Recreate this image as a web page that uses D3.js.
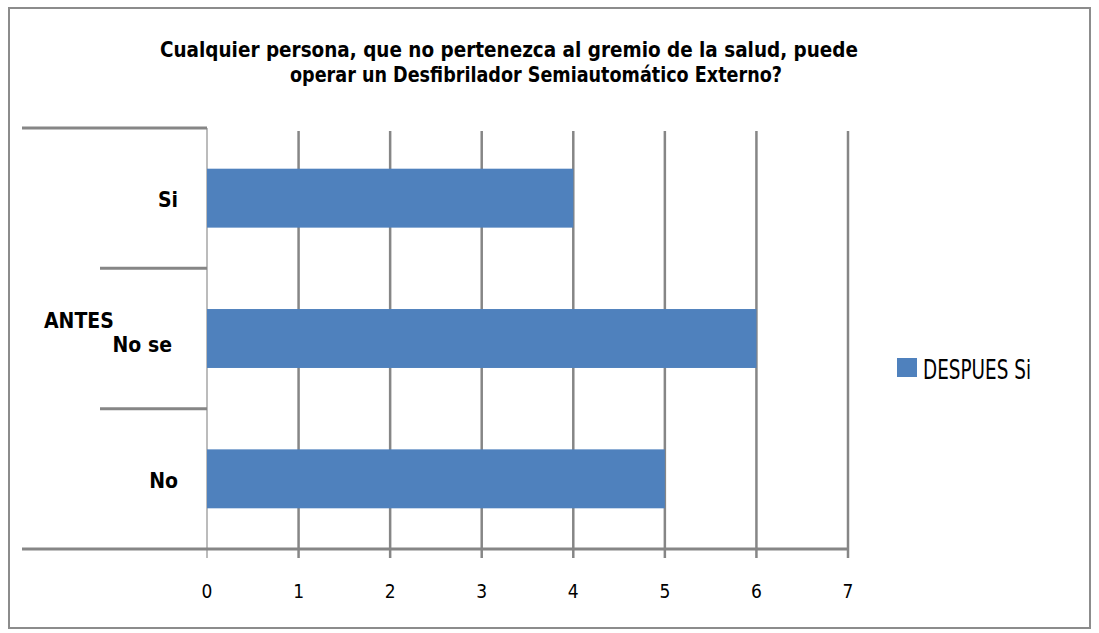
<!DOCTYPE html>
<html>
<head>
<meta charset="utf-8">
<script src="https://cdn.jsdelivr.net/npm/d3@7"></script>
<style>
  body { margin: 0; background: #fff; }
  text { font-family: "Liberation Sans Narrow", "Arial Narrow", "DejaVu Sans Condensed", sans-serif; }
</style>
</head>
<body>
<div id="chart"></div>
<script>
var width = 1099,
	height = 633;

var categories = ["Si", "No se", "No"];
var values = [4, 6, 5];
var ticks = [0, 1, 2, 3, 4, 5, 6, 7];
var groupLabel = "ANTES";
var seriesName = "DESPUES Si";
var titleLines = [
	"Cualquier persona, que no pertenezca al gremio de la salud, puede",
	"operar un Desfibrilador Semiautomático Externo?"
];

var barColor = "#4F81BD",
	gridColor = "#868686";

var svg = d3.select("#chart")
	.append("svg")
		.attr("width", width)
		.attr("height", height)
		.style("background-color", "#fff");

// outer frame
svg.append("rect")
	.attr("x", 9).attr("y", 8)
	.attr("width", 1081).attr("height", 620)
	.attr("fill", "none")
	.attr("stroke", "#8c8c8c")
	.attr("stroke-width", 2);

// title (each line centred on its own, like the original)
var titlePos = [{x: 160, w: 698, y: 57}, {x: 290, w: 492, y: 82}];
svg.selectAll(".title")
	.data(titleLines)
	.enter()
	.append("text")
		.attr("class", "title")
		.attr("x", function(d, i){ return titlePos[i].x; })
		.attr("y", function(d, i){ return titlePos[i].y; })
		.attr("textLength", function(d, i){ return titlePos[i].w; })
		.attr("lengthAdjust", "spacingAndGlyphs")
		.style("font-size", "22px")
		.style("font-weight", "bold")
		.text(function(d){ return d; });

var x = d3.scaleLinear()
	.domain([0, 7])
	.range([207, 848]);

var y = d3.scaleBand()
	.domain(categories)
	.range([128, 549])
	.paddingInner(0.58)
	.paddingOuter(0.29);

// vertical grid lines (and ticks below the axis)
svg.selectAll(".grid")
	.data(ticks)
	.enter()
	.append("line")
		.attr("class", "grid")
		.attr("x1", function(d){ return x(d); })
		.attr("x2", function(d){ return x(d); })
		.attr("y1", function(d){ return d === 0 ? 128 : 131; })
		.attr("y2", 558)
		.attr("stroke", function(d){ return d === 0 ? "#a6a6a6" : gridColor; })
		.attr("stroke-width", function(d){ return d === 0 ? 1.5 : 2.5; });

// category separators on the hierarchical axis
var step = y.step();
var seps = d3.range(categories.length + 1).map(function(i){ return 128 + i * step; });

svg.selectAll(".sep")
	.data(seps)
	.enter()
	.append("line")
		.attr("class", "sep")
		.attr("x1", function(d, i){ return (i === 0 || i === seps.length - 1) ? 22 : 100; })
		.attr("x2", function(d, i){ return i === seps.length - 1 ? 848 : 207; })
		.attr("y1", function(d){ return d; })
		.attr("y2", function(d){ return d; })
		.attr("stroke", gridColor)
		.attr("stroke-width", 3);

// bars
svg.selectAll(".bar")
	.data(values)
	.enter()
	.append("rect")
		.attr("class", "bar")
		.attr("x", x(0))
		.attr("y", function(d, i){ return y(categories[i]); })
		.attr("width", function(d){ return x(d) - x(0); })
		.attr("height", y.bandwidth())
		.attr("fill", barColor);

// x tick labels
svg.selectAll(".tick-label")
	.data(ticks)
	.enter()
	.append("text")
		.attr("class", "tick-label")
		.attr("x", function(d){ return x(d); })
		.attr("y", 598)
		.attr("text-anchor", "middle")
		.style("font-size", "19px")
		.text(function(d){ return d; });

// category labels
svg.selectAll(".cat-label")
	.data(categories)
	.enter()
	.append("text")
		.attr("class", "cat-label")
		.attr("x", function(d, i){ return i === 1 ? 172 : 178; })
		.attr("y", function(d, i){ return y(d) + y.bandwidth() / 2 + (i === 1 ? 13 : 9); })
		.attr("text-anchor", "end")
		.style("font-size", "21px")
		.style("font-weight", "bold")
		.text(function(d){ return d; });

svg.append("text")
	.attr("x", 44)
	.attr("y", 328)
	.style("font-size", "21px")
	.style("font-weight", "bold")
	.text(groupLabel);

// legend
svg.append("rect")
	.attr("x", 897).attr("y", 358)
	.attr("width", 20).attr("height", 19)
	.attr("fill", barColor);

svg.append("text")
	.attr("x", 923)
	.attr("y", 379)
	.attr("textLength", 108)
	.attr("lengthAdjust", "spacingAndGlyphs")
	.style("font-size", "26px")
	.text(seriesName);
</script>
</body>
</html>
